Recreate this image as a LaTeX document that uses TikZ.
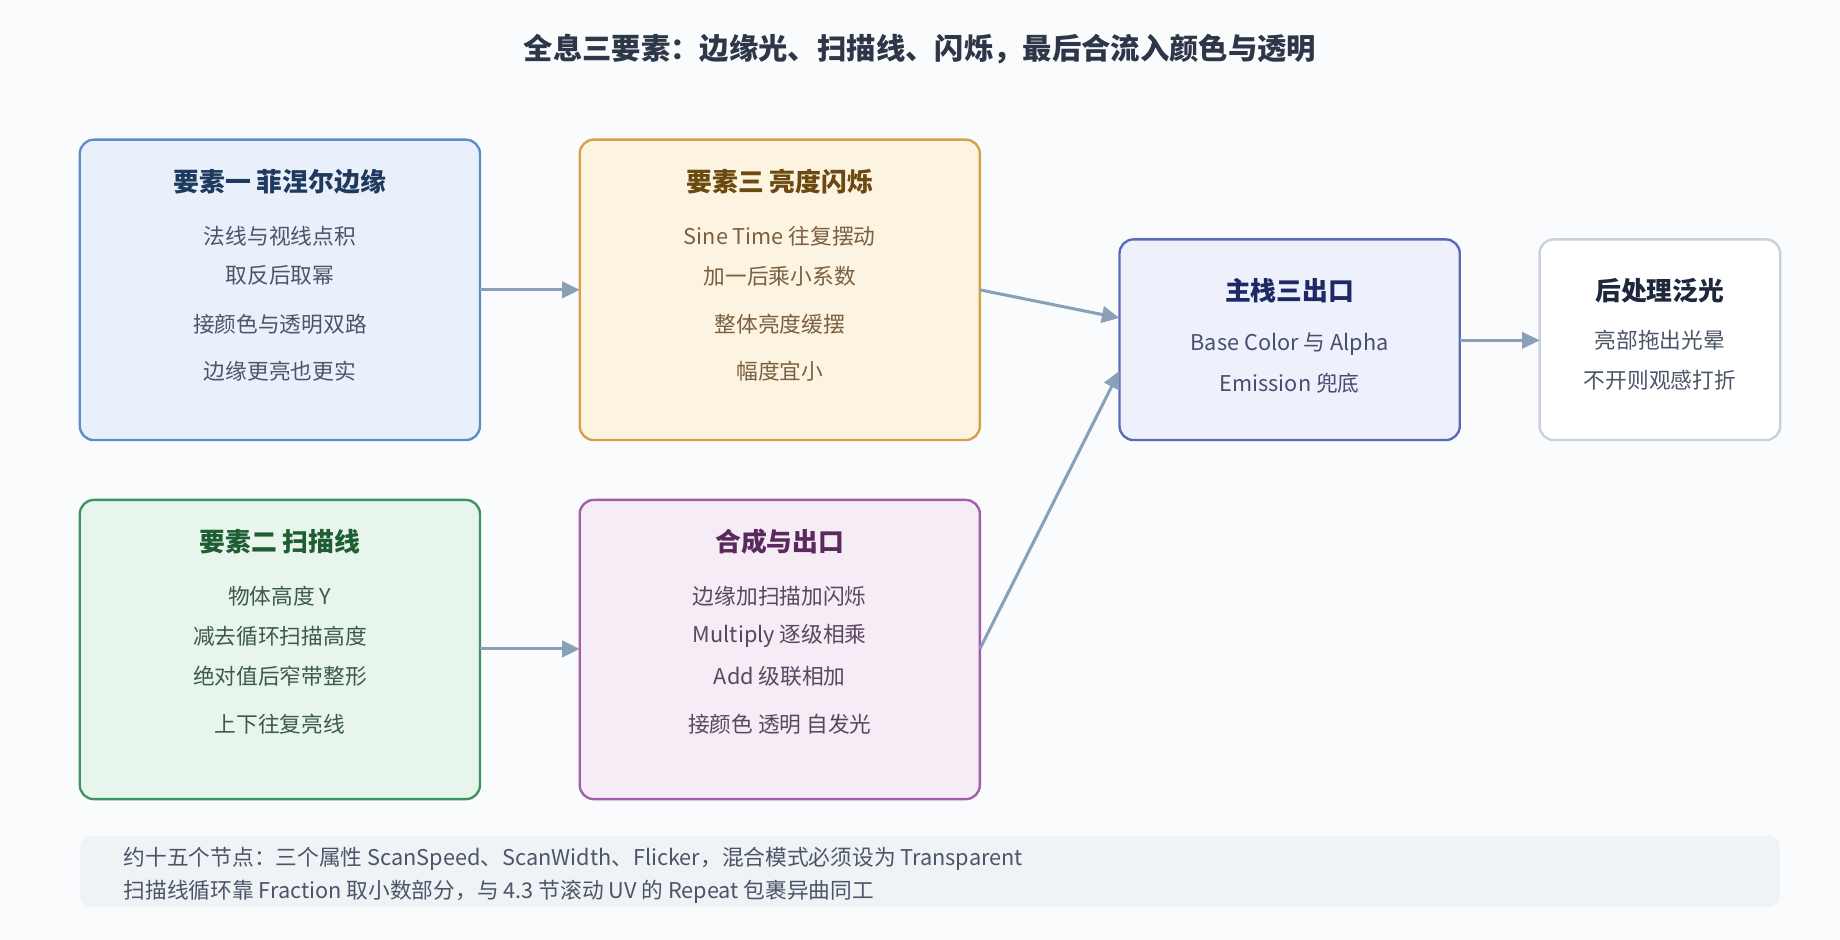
\documentclass[tikz,border=0pt]{standalone}
\usepackage{fontspec}
\setmainfont{Noto Sans CJK SC}
\usetikzlibrary{arrows.meta}
\definecolor{bg}{HTML}{F9FBFD}
\definecolor{arr}{HTML}{8AA0B8}
\definecolor{notebg}{RGB}{240,243,246}
\tikzset{
 box/.style={draw, line width=2pt, rounded corners=12pt},
 ttl/.style={font=\fontsize{22}{26}\selectfont\bfseries},
 bt/.style={font=\fontsize{18.5}{22}\selectfont},
 con/.style={draw=arr, line width=2.6pt, -{Triangle[length=15pt,width=14pt]}},
}
\begin{document}
\begin{tikzpicture}[x=1pt,y=-1pt]
\fill[bg] (0,0) rectangle (1568,801);
\useasboundingbox (0,0) rectangle (1568,801);
\node[font=\fontsize{25}{30}\selectfont\bfseries, text={rgb,255:red,45;green,55;blue,72}] (t) at (784,42) {全息三要素：边缘光、扫描线、闪烁，最后合流入颜色与透明};
% box1
\draw[box, draw={rgb,255:red,91;green,142;blue,196}, fill={rgb,255:red,234;green,240;blue,251}] (68,119) rectangle (409,375);
\node[coordinate] (b1e) at (409,247) {};
\node[ttl, text={rgb,255:red,30;green,58;blue,95}] (b1t) at (238.5,155) {要素一 菲涅尔边缘};
\begin{scope}[every node/.style={bt, text={rgb,255:red,74;green,85;blue,104}}]
\node (b1a) at (238.5,201) {法线与视线点积};
\node (b1b) at (238.5,235) {取反后取幂};
\node (b1c) at (238.5,276) {接颜色与透明双路};
\node (b1d) at (238.5,316) {边缘更亮也更实};
\end{scope}
% box2
\draw[box, draw={rgb,255:red,212;green,160;blue,74}, fill={rgb,255:red,253;green,243;blue,225}] (494,119) rectangle (835,375);
\node[coordinate] (b2w) at (494,247) {};
\node[coordinate] (b2e) at (835,247) {};
\node[ttl, text={rgb,255:red,107;green,74;blue,16}] (b2t) at (664.5,155) {要素三 亮度闪烁};
\begin{scope}[every node/.style={bt, text={rgb,255:red,122;green,96;blue,64}}]
\node (b2a) at (664.5,201) {Sine Time 往复摆动};
\node (b2b) at (664.5,235) {加一后乘小系数};
\node (b2c) at (664.5,276) {整体亮度缓摆};
\node (b2d) at (664.5,316) {幅度宜小};
\end{scope}
% box3
\draw[box, draw={rgb,255:red,62;green,148;blue,96}, fill={rgb,255:red,232;green,245;blue,236}] (68,426) rectangle (409,681);
\node[coordinate] (b3e) at (409,553) {};
\node[ttl, text={rgb,255:red,31;green,94;blue,50}] (b3t) at (238.5,462) {要素二 扫描线};
\begin{scope}[every node/.style={bt, text={rgb,255:red,60;green,90;blue,70}}]
\node (b3a) at (238.5,508) {物体高度 Y};
\node (b3b) at (238.5,542) {减去循环扫描高度};
\node (b3c) at (238.5,576) {绝对值后窄带整形};
\node (b3d) at (238.5,617) {上下往复亮线};
\end{scope}
% box4
\draw[box, draw={rgb,255:red,160;green,96;blue,168}, fill={rgb,255:red,245;green,236;blue,245}] (494,426) rectangle (835,681);
\node[coordinate] (b4w) at (494,553) {};
\node[coordinate] (b4e) at (835,553) {};
\node[ttl, text={rgb,255:red,90;green,42;blue,94}] (b4t) at (664.5,462) {合成与出口};
\begin{scope}[every node/.style={bt, text={rgb,255:red,90;green,70;blue,95}}]
\node (b4a) at (664.5,508) {边缘加扫描加闪烁};
\node (b4b) at (664.5,542) {Multiply 逐级相乘};
\node (b4c) at (664.5,576) {Add 级联相加};
\node (b4d) at (664.5,617) {接颜色 透明 自发光};
\end{scope}
% box5
\draw[box, draw={rgb,255:red,90;green,106;blue,184}, fill={rgb,255:red,238;green,241;blue,251}] (954,204) rectangle (1244,375);
\node[coordinate] (b5w1) at (954,271) {};
\node[coordinate] (b5w2) at (954,316) {};
\node[coordinate] (b5e) at (1244,290) {};
\node[ttl, text={rgb,255:red,30;green,40;blue,100}] (b5t) at (1099,248) {主栈三出口};
\begin{scope}[every node/.style={bt, text={rgb,255:red,70;green,80;blue,110}}]
\node (b5a) at (1099,293) {Base Color 与 Alpha};
\node (b5b) at (1099,327) {Emission 兜底};
\end{scope}
% box6
\draw[box, draw={rgb,255:red,200;green,208;blue,220}, fill=white] (1312,204) rectangle (1517,375);
\node[coordinate] (b6w) at (1312,290) {};
\node[ttl, text={rgb,255:red,30;green,40;blue,60}] (b6t) at (1414.5,248) {后处理泛光};
\begin{scope}[every node/.style={bt, text={rgb,255:red,74;green,85;blue,104}}]
\node (b6a) at (1414.5,290) {亮部拖出光晕};
\node (b6b) at (1414.5,324) {不开则观感打折};
\end{scope}
% note
\fill[notebg, rounded corners=10pt] (68,712) rectangle (1517,773);
\node[bt, anchor=west, text={rgb,255:red,74;green,85;blue,104}] (n1) at (102,732) {约十五个节点：三个属性 ScanSpeed、ScanWidth、Flicker，混合模式必须设为 Transparent};
\node[bt, anchor=west, text={rgb,255:red,74;green,85;blue,104}] (n2) at (102,760) {扫描线循环靠 Fraction 取小数部分，与 4.3 节滚动 UV 的 Repeat 包裹异曲同工};
% connectors
\draw[con] (b1e) -- (b2w);
\draw[con] (b3e) -- (b4w);
\draw[con] (b2e) -- (b5w1);
\draw[con] (b4e) -- (b5w2);
\draw[con] (b5e) -- (b6w);
\end{tikzpicture}
\end{document}
